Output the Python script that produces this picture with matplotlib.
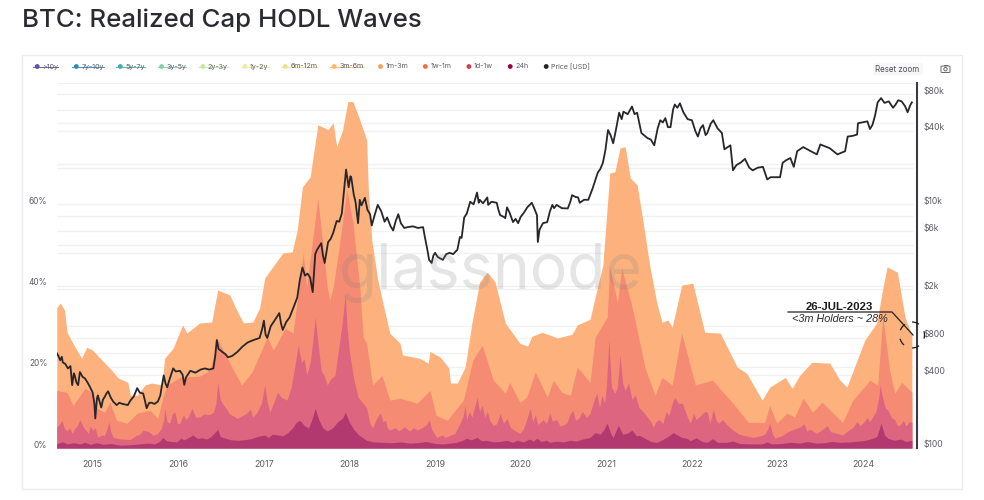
import numpy as np
import matplotlib
matplotlib.use("Agg")
import matplotlib.pyplot as plt
from matplotlib.patches import Rectangle, FancyBboxPatch, Ellipse, Circle
from matplotlib.transforms import ScaledTranslation

# ---- data: time = years after 2000 ----
t_3m = [14.58,14.62,14.67,14.70,14.76,14.87,14.93,15.00,15.11,15.24,15.30,15.41,15.44,15.52,15.61,15.69,15.81,15.84,15.94,16.05,16.10,16.25,16.39,16.46,16.60,16.70,16.76,16.87,16.95,17.01,17.22,17.33,17.39,17.45,17.54,17.63,17.75,17.81,17.85,17.92,17.98,18.04,18.12,18.20,18.22,18.26,18.33,18.39,18.47,18.59,18.62,18.82,18.92,18.94,19.06,19.16,19.18,19.26,19.35,19.43,19.52,19.61,19.70,19.82,19.99,20.08,20.13,20.25,20.43,20.60,20.66,20.81,20.87,20.96,21.04,21.10,21.16,21.22,21.28,21.36,21.42,21.51,21.59,21.65,21.72,21.77,21.88,22.01,22.15,22.33,22.53,22.64,22.82,22.91,23.09,23.17,23.26,23.40,23.61,23.73,23.81,24.02,24.16,24.22,24.28,24.40,24.49,24.57]
v_3m = [34.5,35.7,34.0,28.5,26.1,22.1,24.8,24.1,21.6,18.7,17.2,16.2,13.0,13.0,15.5,16.0,15.5,22.1,24.6,30.3,28.3,30.8,31.0,38.9,37.7,33.2,30.8,31.0,34.5,41.9,48.0,48.3,53.7,64.3,66.8,79.6,78.4,80.1,74.2,78.4,85.3,85.3,80.8,75.9,63.6,51.2,41.4,35.7,28.3,25.8,22.9,22.1,20.9,23.8,22.4,19.7,16.0,16.0,19.9,30.8,40.9,43.3,40.9,30.8,25.8,25.1,27.5,28.5,27.1,28.0,30.3,31.7,37.2,45.1,67.7,68.0,73.9,74.2,66.5,64.8,56.9,44.6,35.7,31.0,31.5,29.8,40.1,40.6,28.5,28.3,19.9,18.4,11.8,15.0,17.4,14.7,17.9,21.1,20.9,16.7,15.0,26.6,30.8,38.2,44.6,43.3,32.2,27.8]

t_1m = [14.58,14.70,14.77,14.91,15.00,15.05,15.14,15.20,15.28,15.40,15.52,15.67,15.76,15.82,15.87,16.02,16.25,16.37,16.46,16.57,16.74,16.86,17.04,17.11,17.25,17.34,17.46,17.50,17.63,17.74,17.77,17.81,17.89,17.97,18.04,18.12,18.16,18.20,18.27,18.38,18.47,18.59,18.79,18.94,19.01,19.14,19.33,19.44,19.55,19.68,19.82,19.87,19.99,20.07,20.17,20.31,20.38,20.48,20.58,20.66,20.81,20.87,21.01,21.04,21.13,21.18,21.31,21.45,21.57,21.65,21.77,21.88,22.04,22.24,22.48,22.66,22.85,22.91,22.99,23.11,23.20,23.30,23.41,23.52,23.76,23.88,24.08,24.17,24.23,24.31,24.37,24.45,24.57]
v_1m = [14.2,13.7,10.5,14.7,13.5,9.8,8.8,11.3,6.8,6.1,8.6,9.3,7.3,12.5,15.5,17.4,17.7,19.2,26.8,22.1,15.5,18.7,27.3,24.1,29.5,28.3,48.0,39.6,61.6,39.6,36.4,39.6,51.2,63.6,55.4,39.6,27.3,25.8,15.5,17.9,11.8,12.3,11.0,14.2,8.1,6.8,11.8,21.6,25.3,16.7,13.5,16.2,11.3,12.5,18.7,12.5,16.7,13.7,13.0,19.9,16.2,27.3,32.2,44.6,35.7,44.3,34.0,19.9,13.0,17.4,15.5,28.3,15.5,16.7,11.0,6.3,6.3,10.5,6.1,8.6,7.6,12.3,8.8,11.3,6.3,11.8,16.7,15.5,32.2,19.2,13.5,16.2,13.7]

series_1w = [(14.58,5.2),(14.61,5.8),(14.64,6.8),(14.67,4.8),(14.70,4.2),(14.73,5.0),(14.76,3.6),(14.79,4.8),(14.82,5.5),(14.85,7.0),(14.88,5.6),(14.91,4.6),(14.95,3.6),(14.97,5.4),(15.00,4.4),(15.03,4.9),(15.06,2.6),(15.10,3.2),(15.14,3.1),(15.17,5.0),(15.19,6.4),(15.21,4.0),(15.24,2.6),(15.33,2.2),(15.44,2.1),(15.50,3.0),(15.55,3.4),(15.59,4.4),(15.65,4.1),(15.70,3.2),(15.75,3.4),(15.80,4.8),(15.83,7.0),(15.84,9.8),(15.87,6.4),(15.90,6.1),(15.93,8.4),(15.96,8.8),(15.99,6.0),(16.02,6.1),(16.06,8.2),(16.09,7.0),(16.12,7.8),(16.16,9.8),(16.20,7.6),(16.25,7.6),(16.30,8.4),(16.36,8.2),(16.41,8.8),(16.44,11),(16.46,16.2),(16.49,12),(16.52,10.8),(16.55,10.0),(16.60,8.4),(16.69,7.3),(16.75,8.0),(16.80,8.6),(16.84,9.6),(16.87,7.6),(16.92,8.8),(16.97,11),(17.01,15.5),(17.04,11.2),(17.07,8.8),(17.11,11),(17.16,13.7),(17.20,12.5),(17.27,11.8),(17.32,15),(17.36,20),(17.40,25.3),(17.44,21),(17.47,22),(17.50,17.9),(17.54,21),(17.57,26),(17.60,32.2),(17.63,26),(17.67,19),(17.70,18),(17.74,15.5),(17.78,17),(17.83,17.9),(17.87,24),(17.91,30),(17.95,37.7),(17.97,30),(18.00,23.4),(18.05,17),(18.10,12.5),(18.16,11.0),(18.20,9.8),(18.24,6),(18.27,4.9),(18.30,6.5),(18.33,7.8),(18.36,8.6),(18.39,6.5),(18.42,6.8),(18.44,5),(18.47,4.4),(18.53,5),(18.58,4.2),(18.64,5.2),(18.70,4.2),(18.75,5.0),(18.79,4.4),(18.85,5),(18.90,5.8),(18.93,7.0),(18.96,4.5),(19.02,2.6),(19.08,3.2),(19.12,2.6),(19.17,3.1),(19.23,3.6),(19.29,6),(19.33,8),(19.35,10.5),(19.37,7),(19.40,9),(19.43,7.6),(19.46,10),(19.49,12.5),(19.52,9),(19.55,10.5),(19.58,7.5),(19.61,9),(19.64,6.8),(19.68,5.5),(19.72,6),(19.76,8.5),(19.80,6),(19.84,7.3),(19.88,5),(19.94,4.2),(19.99,3.6),(20.03,4.6),(20.07,7),(20.11,9.8),(20.14,6.5),(20.17,8.2),(20.20,5.8),(20.22,6.1),(20.26,7),(20.30,6),(20.34,8.6),(20.37,6.6),(20.42,7),(20.46,5.4),(20.49,5.6),(20.54,6.2),(20.58,8.5),(20.61,9.3),(20.64,6.8),(20.68,7.4),(20.72,9),(20.77,7.5),(20.81,8.6),(20.86,12),(20.89,13.5),(20.92,10),(20.95,13),(20.98,11),(21.00,15),(21.03,26.6),(21.06,15),(21.10,13.5),(21.13,15),(21.16,22.9),(21.19,16),(21.22,14.2),(21.26,16),(21.30,12),(21.34,13),(21.38,10),(21.43,9),(21.48,7.6),(21.52,6.5),(21.55,5.1),(21.58,6.5),(21.62,7),(21.66,6),(21.70,9),(21.73,8),(21.77,11),(21.80,12.5),(21.84,11),(21.89,11),(21.93,8.5),(21.98,6.1),(22.02,8.5),(22.05,7),(22.10,8),(22.15,9),(22.18,8.8),(22.21,6),(22.25,9.5),(22.28,7),(22.31,6.1),(22.36,7),(22.42,5.5),(22.48,4.4),(22.55,3.4),(22.63,3.0),(22.71,2.6),(22.80,3),(22.85,3.4),(22.88,4.4),(22.91,6),(22.94,3.5),(22.97,2.4),(23.05,3),(23.12,4),(23.19,4.6),(23.26,5.1),(23.31,6),(23.34,4.2),(23.38,4.6),(23.46,3.6),(23.52,4.5),(23.58,5.5),(23.62,4),(23.70,3.6),(23.76,3.2),(23.82,4.2),(23.88,5.1),(23.93,6.5),(23.96,5.5),(24.00,6.2),(24.05,7.5),(24.08,6.5),(24.11,7.6),(24.15,9),(24.18,12),(24.20,15.5),(24.22,13),(24.26,9.8),(24.29,9.3),(24.33,7.5),(24.37,7),(24.40,5.6),(24.43,5.6),(24.47,6.8),(24.50,5.4),(24.54,6.5),(24.57,6.3)]

series_24h = [(14.58,1.1),(14.65,1.5),(14.70,1.0),(14.78,1.3),(14.85,1.0),(14.91,1.4),(14.97,0.9),(15.05,1.3),(15.12,0.9),(15.22,1.1),(15.32,0.7),(15.44,0.8),(15.55,1.0),(15.65,1.2),(15.72,1.0),(15.78,1.6),(15.82,2.6),(15.86,1.8),(15.92,1.6),(15.98,1.5),(16.03,2.4),(16.07,2.0),(16.12,2.6),(16.17,3.2),(16.22,2.4),(16.28,2.5),(16.33,2.2),(16.38,2.8),(16.43,3.9),(16.46,4.6),(16.49,2.8),(16.55,2.4),(16.62,2.0),(16.70,1.9),(16.76,2.0),(16.85,2.3),(16.92,2.8),(17.01,3.2),(17.05,2.6),(17.10,3.4),(17.16,3.2),(17.22,3.0),(17.28,3.8),(17.34,5.1),(17.38,6.4),(17.42,6.8),(17.47,5.6),(17.52,4.9),(17.56,7),(17.60,9.8),(17.64,7),(17.69,4.9),(17.74,4.2),(17.80,4.9),(17.86,6.4),(17.92,7.4),(17.95,8.8),(18.00,6.3),(18.05,4.6),(18.10,3.4),(18.15,2.6),(18.20,1.9),(18.28,1.5),(18.39,1.4),(18.50,1.3),(18.60,1.5),(18.70,1.2),(18.79,1.3),(18.90,1.6),(19.00,1.1),(19.10,1.0),(19.17,1.2),(19.25,1.4),(19.32,1.9),(19.37,2.4),(19.42,2.0),(19.49,2.6),(19.54,1.8),(19.60,1.9),(19.68,1.5),(19.75,1.6),(19.84,1.9),(19.90,1.4),(19.96,1.9),(20.03,1.5),(20.10,2.2),(20.15,1.7),(20.19,2.4),(20.24,1.6),(20.30,1.9),(20.34,1.4),(20.42,1.7),(20.50,1.5),(20.58,1.9),(20.65,1.7),(20.72,2.2),(20.81,2.6),(20.87,3.8),(20.93,3.4),(20.97,4.5),(21.01,6.1),(21.05,3.6),(21.08,2.6),(21.14,5.6),(21.19,3.4),(21.24,3.6),(21.30,4.4),(21.35,3),(21.39,3.1),(21.45,2.4),(21.52,1.6),(21.59,1.4),(21.65,2),(21.72,2.8),(21.78,3.8),(21.83,3.2),(21.88,2.6),(21.94,2.4),(21.98,1.8),(22.05,2.5),(22.12,1.6),(22.18,1.4),(22.24,2.3),(22.30,1.4),(22.40,1.4),(22.48,1.7),(22.56,1.1),(22.70,1.0),(22.82,1.0),(22.88,1.5),(22.93,1.0),(23.05,1.1),(23.15,1.4),(23.26,1.2),(23.35,1.6),(23.45,1.2),(23.55,1.3),(23.63,1.6),(23.73,1.4),(23.85,1.5),(23.95,1.7),(24.03,1.9),(24.11,2.4),(24.16,2.8),(24.21,6.1),(24.25,3.2),(24.29,2.4),(24.36,1.9),(24.44,2.2),(24.50,1.6),(24.57,1.9)]

series_price = [(14.58,600),(14.60,570),(14.62,525),(14.64,560),(14.65,505),(14.68,490),(14.71,450),(14.74,470),(14.76,328),(14.78,410),(14.79,395),(14.81,345),(14.83,328),(14.85,420),(14.86,410),(14.88,385),(14.91,372),(14.94,345),(14.97,315),(14.99,295),(15.00,285),(15.02,230),(15.03,175),(15.05,255),(15.06,270),(15.08,240),(15.10,215),(15.12,250),(15.14,262),(15.16,280),(15.18,292),(15.21,260),(15.24,240),(15.28,225),(15.31,235),(15.35,230),(15.41,225),(15.44,245),(15.48,265),(15.52,310),(15.55,285),(15.59,280),(15.61,245),(15.63,212),(15.66,235),(15.69,235),(15.72,230),(15.76,240),(15.79,270),(15.81,330),(15.83,395),(15.85,340),(15.87,315),(15.90,370),(15.94,450),(15.97,425),(16.02,430),(16.05,400),(16.07,330),(16.09,380),(16.14,430),(16.20,415),(16.26,440),(16.31,450),(16.36,440),(16.41,450),(16.43,560),(16.45,770),(16.47,650),(16.49,635),(16.52,610),(16.55,590),(16.58,555),(16.63,570),(16.69,615),(16.75,680),(16.81,735),(16.88,770),(16.95,800),(16.98,950),(17.00,1110),(17.02,850),(17.04,800),(17.08,1000),(17.12,1100),(17.18,1280),(17.20,1050),(17.22,930),(17.26,1080),(17.30,1180),(17.35,1450),(17.39,1720),(17.42,2400),(17.45,3030),(17.48,2600),(17.51,2700),(17.54,2500),(17.57,1900),(17.60,3900),(17.62,4230),(17.67,4800),(17.69,3800),(17.71,3300),(17.75,4900),(17.78,5200),(17.81,5850),(17.85,7300),(17.88,7200),(17.91,8400),(17.94,14000),(17.96,19300),(17.98,15500),(17.99,13800),(18.01,17000),(18.02,16700),(18.05,12000),(18.07,10500),(18.10,7000),(18.12,10900),(18.14,9800),(18.18,11300),(18.21,9000),(18.24,8300),(18.26,6700),(18.29,8000),(18.33,9900),(18.37,8800),(18.41,7200),(18.44,7800),(18.48,6600),(18.51,6100),(18.54,7300),(18.57,8300),(18.60,7000),(18.64,6400),(18.68,6500),(18.74,6600),(18.80,6400),(18.86,6500),(18.88,5400),(18.91,4230),(18.93,3500),(18.96,3300),(18.98,3800),(19.00,4000),(19.03,3700),(19.09,3500),(19.13,3900),(19.17,4000),(19.21,3900),(19.26,4230),(19.29,5400),(19.31,5300),(19.34,7800),(19.37,8400),(19.41,10500),(19.45,10000),(19.49,12500),(19.51,10300),(19.52,10900),(19.56,10200),(19.61,11400),(19.62,9900),(19.66,10500),(19.72,10300),(19.74,9000),(19.76,8150),(19.80,7900),(19.82,7700),(19.84,9450),(19.87,8550),(19.91,7150),(19.94,7600),(19.97,7000),(20.00,7900),(20.03,8400),(20.08,9500),(20.13,10300),(20.16,9200),(20.19,8150),(20.20,4900),(20.22,6200),(20.26,7000),(20.31,7150),(20.34,8700),(20.37,9900),(20.39,9300),(20.42,9900),(20.48,9300),(20.55,9250),(20.58,10500),(20.60,11900),(20.64,11500),(20.67,11400),(20.69,10300),(20.74,10900),(20.79,10900),(20.84,13500),(20.90,18200),(20.93,19500),(20.96,21900),(20.99,28000),(21.02,40700),(21.05,37000),(21.08,31700),(21.11,40000),(21.15,56500),(21.18,50000),(21.20,57600),(21.25,55000),(21.30,63500),(21.33,55000),(21.36,56500),(21.39,45000),(21.41,38500),(21.44,37000),(21.48,35000),(21.52,34000),(21.56,30500),(21.60,42000),(21.63,49000),(21.66,47000),(21.69,51000),(21.72,43000),(21.75,43000),(21.78,60000),(21.80,66000),(21.83,62000),(21.86,67500),(21.90,57000),(21.95,50000),(22.00,49000),(22.04,40000),(22.07,36000),(22.10,42000),(22.13,44700),(22.16,37000),(22.18,38500),(22.22,46000),(22.25,49000),(22.30,42000),(22.35,38500),(22.38,28300),(22.42,29500),(22.45,30500),(22.48,19000),(22.52,21000),(22.57,22000),(22.62,23600),(22.67,20000),(22.71,19000),(22.77,20000),(22.83,20300),(22.88,16000),(22.92,16700),(22.95,16700),(23.03,16700),(23.06,21900),(23.10,23000),(23.15,24000),(23.19,20300),(23.23,27300),(23.30,29500),(23.38,27500),(23.46,25700),(23.50,31000),(23.55,30000),(23.61,28900),(23.70,25700),(23.79,27300),(23.82,36000),(23.88,36500),(23.93,37400),(23.94,46300),(24.05,48000),(24.08,41500),(24.11,45000),(24.14,53700),(24.17,68700),(24.21,74500),(24.25,68000),(24.30,70000),(24.35,62000),(24.38,66000),(24.41,71500),(24.45,70000),(24.49,64000),(24.52,57000),(24.55,65000),(24.57,68700)]

t_1w, v_1w = zip(*series_1w)
t_24, v_24 = zip(*series_24h)
t_price, price = zip(*series_price)

year_ticks = list(range(15, 25))
pct_grid = [10,20,30,40,50,60,70,80,90]
pct_ticks = [0,20,40,60]
price_grid = [200,400,600,800,2000,4000,6000,8000,20000,40000,60000,80000]
price_ticks = [100,400,800,2000,6000,10000,40000,80000]
price_labels = ["$100","$400","$800","$2k","$6k","$10k","$40k","$80k"]
legend_names = [">10y","7y-10y","5y-7y","3y-5y","2y-3y","1y-2y","6m-12m","3m-6m","1m-3m","1w-1m","1d-1w","24h","Price [USD]"]
legend_cols = ["#5e4fa2","#3288bd","#45ada8","#88cfa4","#c4e89e","#eeee9e","#f5df8c","#fdb868","#fb9f5a","#f46d43","#d53e4f","#9e0142","#222222"]
legend_off = [True]*8 + [False]*5
legend_x = [37.2,76.3,120.3,161.6,202.9,245,285.2,334.2,380.5,425.3,468.9,510.2,546.2]

FONT = "Inter"
TXT = "#5c5c66"
W, H = 984, 500
fig = plt.figure(figsize=(W/100, H/100), dpi=100, facecolor="white")
plt.rcParams["font.family"] = [FONT, "DejaVu Sans"]

pg = fig.add_axes([0, 0, 1, 1], zorder=0)
pg.set_xlim(0, W); pg.set_ylim(H, 0); pg.axis("off")
pg.add_patch(Rectangle((22, 55), 940, 434, fc="white", ec="#ececf0", lw=1))
pg.text(22, 20, "BTC: Realized Cap HODL Waves", fontsize=18.6, fontweight="medium",
        color="#2a2a32", va="center", ha="left", family=FONT)

L, R, T, B = 57, 917, 82.5, 448
rect = [L/W, 1-B/H, (R-L)/W, (B-T)/H]
xmin = 15 + (L-92.7)/85.6
xmax = 15 + (R-92.7)/85.6
end = 15 + (913-92.7)/85.6

# grid layer behind the areas (log price gridlines)
axg = fig.add_axes(rect, zorder=0.5)
axg.patch.set_alpha(0)
axg.set_yscale("log"); axg.set_ylim(100, 100000); axg.set_xlim(xmin, xmax)
axg.hlines(price_grid, xmin, end, color="#f1f1f3", lw=1)
axg.axis("off")

ax = fig.add_axes(rect, zorder=1)
ax.patch.set_alpha(0)
ax.set_xlim(xmin, xmax)
ax.set_ylim(0, 90)
ax.hlines(pct_grid, xmin, end, color="#f1f1f3", lw=1, zorder=1)

for t, v, c, z in [(t_3m, v_3m, "#fdb27e", 2), (t_1m, v_1m, "#f58b72", 3),
                   (t_1w, v_1w, "#dd6580", 4), (t_24, v_24, "#b2396f", 5)]:
    ax.fill_between(t, 0, v, color=c, lw=0, zorder=z)

for s in ["top", "left", "right"]:
    ax.spines[s].set_visible(False)
ax.spines["bottom"].set_color("#e6e6ee")
ax.spines["bottom"].set_linewidth(1)
ax.set_xticks(year_ticks)
ax.set_xticklabels([str(2000+y) for y in year_ticks], fontsize=6.4, color=TXT)
ax.tick_params(axis="x", length=0, pad=8.5)
ax.set_yticks(pct_ticks)
ax.set_yticklabels([f"{p}%" for p in pct_ticks], fontsize=6, color=TXT)
ax.tick_params(axis="y", length=0, pad=7)
up = ScaledTranslation(0, 4/100, fig.dpi_scale_trans)
for lab in ax.get_yticklabels():
    lab.set_transform(lab.get_transform() + up)

ax2 = ax.twinx()
ax2.patch.set_alpha(0)
ax2.set_yscale("log")
ax2.set_ylim(100, 100000)
ax2.set_xlim(xmin, xmax)
ax2.set_zorder(2)
ax2.plot(t_price, price, color="#26262b", lw=1.3, solid_joinstyle="round", zorder=6)
ax2.minorticks_off()
ax2.set_yticks(price_ticks)
ax2.set_yticklabels(price_labels, fontsize=6.2, color=TXT)
ax2.tick_params(axis="y", length=0, pad=5)
ax2.minorticks_off()
for lab in ax2.get_yticklabels():
    lab.set_transform(lab.get_transform() + up)
for s in ["top", "left", "bottom"]:
    ax2.spines[s].set_visible(False)
ax2.spines["right"].set_color("#3a3a40")
ax2.spines["right"].set_linewidth(1.5)

ov = fig.add_axes([0, 0, 1, 1], zorder=5)
ov.set_xlim(0, W); ov.set_ylim(H, 0); ov.axis("off"); ov.patch.set_alpha(0)
ov.text(491, 272, "glassnode", fontsize=45, color="#808080", alpha=0.2,
        ha="center", va="center", family=FONT)

ov.plot([788, 892, 913], [312, 312, 335], color="#222222", lw=0.9)
ov.text(839, 306.5, "26-JUL-2023", fontsize=8.2, fontweight="bold", color="#1c1c1c",
        ha="center", va="center", family="Liberation Sans")
ov.text(840, 319, "<3m Holders ~ 28%", fontsize=7.8, style="italic", color="#2a2a2a",
        ha="center", va="center", family="Liberation Sans")
ov.add_patch(Ellipse((912, 335), 25, 26, fc="none", ec="#1c1c1c", lw=0.9, ls=(0, (6, 7))))

ly = 66.5
fig.canvas.draw()
for x, n, c, off in zip(legend_x, legend_names, legend_cols, legend_off):
    ov.add_patch(Circle((x, ly), 2.4, fc=c, ec="none"))
    t = ov.text(x+5, ly, n, fontsize=5.1, color=TXT, va="center", ha="left", family=FONT)
    if off:
        bb = t.get_window_extent(fig.canvas.get_renderer())
        ov.plot([x-4, bb.x1], [ly, ly], color=c, lw=0.8, alpha=0.85)

ov.add_patch(FancyBboxPatch((873, 63), 50, 12, boxstyle="round,pad=0,rounding_size=2", fc="#f7f7f9", ec="none"))
ov.text(897, 69, "Reset zoom", fontsize=5.7, color="#4d4d55", ha="center", va="center", family=FONT)
ov.add_patch(FancyBboxPatch((941, 66), 9, 6.5, boxstyle="round,pad=0,rounding_size=1", fc="none", ec="#666670", lw=0.7))
ov.add_patch(Circle((945.5, 69.2), 1.7, fc="none", ec="#666670", lw=0.7))
ov.add_patch(Rectangle((943.5, 64.8), 4, 1.2, fc="#666670", ec="none"))

fig.savefig("out.png", dpi=100, facecolor="white")
